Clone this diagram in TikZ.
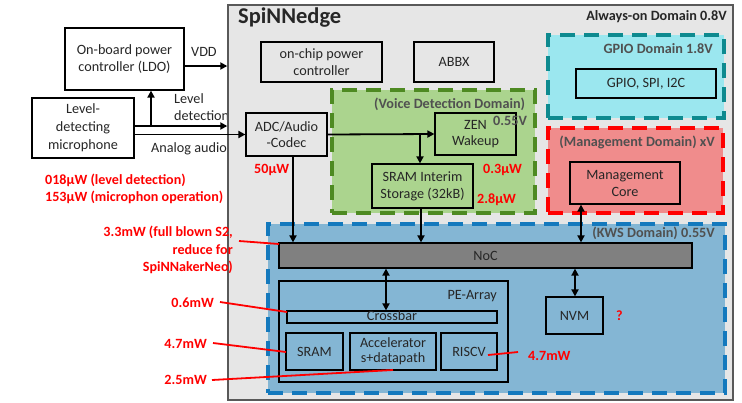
\documentclass[tikz,border=0pt]{standalone}
\usepackage{fontspec}
\setmainfont{Carlito}
\usetikzlibrary{arrows.meta}
\definecolor{mainfill}{HTML}{E6E6E6}
\definecolor{mainline}{HTML}{595959}
\definecolor{voicefill}{HTML}{ABD48E}
\definecolor{voiceline}{HTML}{4E8A22}
\definecolor{gpiofill}{HTML}{9BE7EF}
\definecolor{gpioline}{HTML}{0E8A8F}
\definecolor{mgmtfill}{HTML}{F08C8C}
\definecolor{mgmtline}{HTML}{FF0000}
\definecolor{kwsfill}{HTML}{84B6D4}
\definecolor{kwsline}{HTML}{1479BD}
\definecolor{nocfill}{HTML}{808080}
\definecolor{lbl}{HTML}{505050}
\definecolor{txt}{HTML}{262626}
\tikzset{
  base/.style={font=\fontsize{14.2}{17}\selectfont, text=txt},
  box/.style={base, draw=black, line width=1.2pt, align=center, inner sep=0pt},
  wbox/.style={box, fill=white},
  dom/.style={line width=3.6pt, dash pattern=on 15pt off 9pt, inner sep=0pt},
  arr/.style={line width=1.8pt, -{Triangle[length=7pt,width=7pt]}},
  darr/.style={line width=1.8pt, {Triangle[length=7pt,width=7pt]}-{Triangle[length=7pt,width=7pt]}},
  redl/.style={line width=1.8pt, red},
  redt/.style={font=\fontsize{14.1}{17.5}\selectfont\bfseries, text=red, inner sep=0pt},
  grayt/.style={font=\fontsize{14.2}{17}\selectfont\bfseries, text=lbl, inner sep=0pt},
  plain/.style={base, inner sep=0pt},
}
\begin{document}
\begin{tikzpicture}[x=1pt,y=-1pt]
\useasboundingbox (0,0) rectangle (742,402);
\fill[white] (0,0) rectangle (742,402);

% outside labels
\node[plain, anchor=west] (vddl) at (191,52) {VDD};
\node[plain, anchor=north west, align=left] (levl) at (174,93) {Level\\detection};
\node[plain, anchor=west] (anal) at (151,149) {Analog audio};

% main chip
\node[draw=mainline, fill=mainfill, line width=1.4pt, minimum width=505pt, minimum height=395pt, inner sep=0pt] (main) at (480.5,202.5) {};
\node[font=\fontsize{22.5}{26}\selectfont\bfseries, text=txt, anchor=west, inner sep=0pt] (title) at (238,18) {SpiNNedge};
\node[font=\fontsize{14.2}{17}\selectfont\bfseries, text=txt, anchor=east, inner sep=0pt] (aon) at (727,17) {Always-on Domain 0.8V};

% outside boxes
\node[wbox, minimum width=119pt, minimum height=62pt] (ldo) at (124.5,59) {On-board power\\controller (LDO)};
\node[wbox, minimum width=102pt, minimum height=60pt, font=\fontsize{14.2}{18}\selectfont] (mic) at (83,128) {Level-\\detecting\\microphone};

% top boxes
\node[box, minimum width=121pt, minimum height=40pt] (ocpc) at (321.5,62) {on-chip power\\controller};
\node[box, minimum width=80pt, minimum height=40pt] (abbx) at (454,62) {ABBX};

% domains
\node[dom, draw=voiceline, fill=voicefill, minimum width=203pt, minimum height=123pt] (voice) at (433.5,151.5) {};
\node[dom, draw=gpioline, fill=gpiofill, minimum width=176pt, minimum height=83pt] (gpiod) at (636,76.5) {};
\node[dom, draw=mgmtline, fill=mgmtfill, minimum width=175pt, minimum height=85pt] (mgmtd) at (635.5,170.5) {};
\node[dom, draw=kwsline, fill=kwsfill, minimum width=457pt, minimum height=169pt] (kws) at (496.5,308.5) {};

% domain labels
\node[grayt, anchor=west] (voicel) at (374,104) {(Voice Detection Domain)};
\node[grayt, anchor=east] (gpiol) at (713,49) {GPIO Domain 1.8V};
\node[grayt, anchor=east] (mgmtl) at (715,142) {(Management Domain) xV};
\node[grayt, anchor=east] (kwsl) at (715,233) {(KWS Domain) 0.55V};

% voice domain content
\node[box, minimum width=81pt, minimum height=42pt, font=\fontsize{14.2}{16.5}\selectfont] (zen) at (475.5,134) {ZEN\\Wakeup};
\node[grayt, anchor=west] (v055) at (493,121) {0.55V};
\node[box, fill=mainfill, minimum width=81pt, minimum height=43pt, font=\fontsize{14.2}{16.5}\selectfont] (adc) at (286.5,134.5) {ADC/Audio\\-Codec};
\node[box, minimum width=101pt, minimum height=44pt] (srami) at (422.5,186) {SRAM Interim\\Storage (32kB)};

% gpio / management
\node[box, minimum width=140pt, minimum height=29pt] (gpio) at (646,83.5) {GPIO, SPI, I2C};
\node[box, minimum width=110pt, minimum height=42pt] (mcore) at (625,183) {Management\\Core};

% KWS content
\node[box, fill=nocfill, minimum width=413pt, minimum height=25pt] (noc) at (485.5,255.5) {NoC};
\node[box, minimum width=229pt, minimum height=101pt] (pe) at (393.5,331.5) {};
\node[plain, anchor=east] (pel) at (497,296) {PE-Array};
\node[box, minimum width=210pt, minimum height=12pt, text height=8pt, text depth=2pt, inner sep=1pt] (xbar) at (392,317) {Crossbar};
\node[box, minimum width=57pt, minimum height=37pt] (sram) at (314.5,351.5) {SRAM};
\node[box, minimum width=86pt, minimum height=37pt, font=\fontsize{14.2}{15}\selectfont] (acc) at (393,351.5) {Accelerator\\s+datapath};
\node[box, minimum width=56pt, minimum height=37pt] (riscv) at (469,351.5) {RISCV};
\node[box, minimum width=57pt, minimum height=37pt] (nvm) at (574.5,315.5) {NVM};

% connectors
\coordinate (vddy) at (200,66);
\draw[arr] (ldo.east |- vddy) -- (main.west |- vddy);
\coordinate (levy) at (200,126);
\draw[arr] (mic.east |- levy) -- (main.west |- levy);
\coordinate (upx) at (151,126);
\draw[arr] (upx) -- (upx |- ldo.south);
\draw[arr] (mic.east |- adc.west) -- (adc.west);
\draw[arr] (adc.east) -- (zen.west);
\coordinate (br) at (420,134.5);
\draw[arr] (br) -- (br |- srami.north);
\coordinate (adcx) at (293,150);
\draw[arr] (adcx |- adc.south) -- (adcx |- noc.north);
\coordinate (sx) at (421,150);
\draw[arr] (sx |- srami.south) -- (sx |- noc.north);
\coordinate (mx) at (581,150);
\draw[darr] (mx |- mcore.south) -- (mx |- noc.north);
\coordinate (xx) at (386,290);
\draw[darr] (xx |- noc.south) -- (xx |- xbar.north);
\coordinate (nx) at (575,290);
\draw[darr] (nx |- noc.south) -- (nx |- nvm.north);

% red annotations
\node[redt, anchor=west] (r1) at (45,180) {018µW (level detection)};
\node[redt, anchor=west] (r2) at (45,197) {153µW (microphon operation)};
\node[redt, anchor=north east, align=right] (r3) at (233,226) {3.3mW (full blown S2,\\reduce for\\SpiNNakerNeo)};
\node[redt, anchor=east] (r4) at (214,303) {0.6mW};
\node[redt, anchor=east] (r5) at (207,344) {4.7mW};
\node[redt, anchor=east] (r6) at (207,380) {2.5mW};
\node[redt, anchor=west] (r7) at (254,170) {50µW};
\node[redt, anchor=west] (r8) at (483,170) {0.3µW};
\node[redt, anchor=west] (r9) at (477,200) {2.8µW};
\node[redt, anchor=west] (r10) at (528,356) {4.7mW};
\node[redt, anchor=west] (r11) at (616,316) {?};

\coordinate (e3) at (279,244);
\coordinate (e4) at (287,312);
\coordinate (e5) at (286,352);
\coordinate (e6) at (393,370);
\coordinate (e7) at (488,355);
\draw[redl] (239,241) -- (e3);
\draw[redl] (r4.east) ++(6,-1) -- (e4);
\draw[redl] (r5.east) ++(6,-1) -- (e5);
\draw[redl] (r6.east) ++(5,0) -- (e6);
\draw[redl] (e7) -- (518,352);
\end{tikzpicture}
\end{document}
